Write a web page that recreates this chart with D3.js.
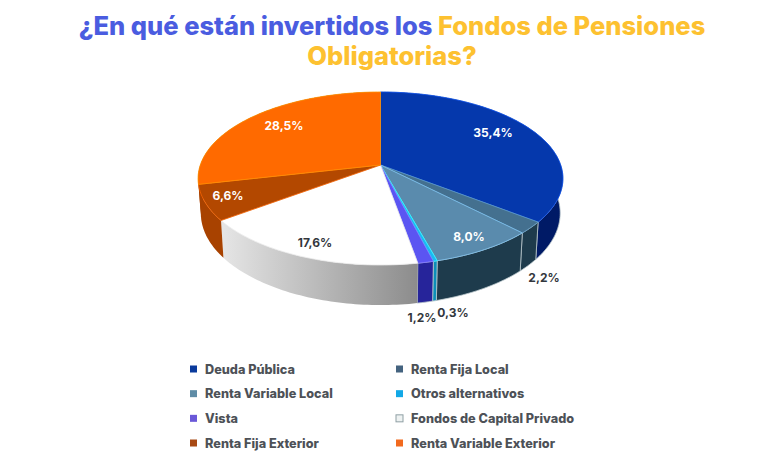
<!DOCTYPE html>
<html>
<head>
<meta charset="utf-8">
<script src="https://cdn.jsdelivr.net/npm/d3@7"></script>
<style>
    html, body { margin: 0; padding: 0; background: #fff; }
    svg { display: block; }
    text { font-family: Inter, "Open Sans", sans-serif; }
</style>
</head>
<body>
<svg id="chart" width="780" height="454"></svg>
<script>
const categories = ["Deuda Pública", "Renta Fija Local", "Renta Variable Local", "Otros alternativos",
    "Vista", "Fondos de Capital Privado", "Renta Fija Exterior", "Renta Variable Exterior"];
const values = [35.4, 2.2, 8.0, 0.3, 1.2, 17.6, 6.6, 28.5];
const valueLabels = ["35,4%", "2,2%", "8,0%", "0,3%", "1,2%", "17,6%", "6,6%", "28,5%"];
const topColors = ["#0538ac", "#44708f", "#5a8bad", "#1cb8f2", "#5b55f2", "#ffffff", "#b34800", "#ff6a00"];
// the small part of the last slice's wall that shows is hidden in the brown of the one before it
const wallColors = ["#001a66", "#1e3b4c", "#1e3b4c", "#0c8fb8", "#26249a", "url(#wall-grey)", "#a84200", "#a84200"];
const legendColors = ["#0a3a9c", "#44637f", "#5f8ca6", "#12a8e6", "#6a58d8", "#eef2f2", "#a84a14", "#f26a1e"];

// label layout, in the order of the categories
const labelX = [493, 544, 469, 453, 422, 315, 228, 284];
const labelY = [132, 277, 236, 312, 317, 242, 195, 125];
const labelFill = ["#fff", "#33373d", "#fff", "#33373d", "#33373d", "#33373d", "#fff", "#fff"];

const svg = d3.select("#chart");

// pie geometry: the disc is seen in perspective, so the apex is above the ellipse centre
const cx = 380.5, apexY = 165;
const persp = 0.156, rx = 180.2, ry = 84.4, depth = 33.8, bottomShrink = 0.985;

function project(angle, level) {
    const u = Math.sin(angle), v = -Math.cos(angle);
    const w = 1 - persp * v;
    const s = level ? bottomShrink : 1;
    return [cx + s * rx * u / w, apexY + ry * v / w + (level ? depth / w : 0)];
}

const arcs = d3.pie().sort(null)(values);
const line = d3.line();
const sampleAngles = d => {
    const n = Math.max(2, Math.ceil((d.endAngle - d.startAngle) / 0.02));
    return d3.range(n + 1).map(i => d.startAngle + (d.endAngle - d.startAngle) * i / n);
};

const defs = svg.append("defs");
const greyGrad = defs.append("linearGradient").attr("id", "wall-grey");
greyGrad.append("stop").attr("offset", "0%").attr("stop-color", "#e6e6e6");
greyGrad.append("stop").attr("offset", "100%").attr("stop-color", "#8c8c8c");

// side walls first, the top faces cover whatever is behind
svg.append("g").selectAll("path").data(arcs).enter().append("path")
    .attr("d", d => {
        const a = sampleAngles(d);
        const pts = a.map(t => project(t, 0)).concat(a.slice().reverse().map(t => project(t, 1)));
        return line(pts) + "Z";
    })
    .attr("fill", (d, i) => wallColors[i])
    .attr("stroke", (d, i) => i >= 5 ? "none" : "#b9c6cc")
    .attr("stroke-width", 0.8);

svg.append("g").selectAll("path").data(arcs).enter().append("path")
    .attr("d", d => line([[cx, apexY]].concat(sampleAngles(d).map(t => project(t, 0)))) + "Z")
    .attr("fill", (d, i) => topColors[i])
    .attr("stroke", (d, i) => i === 5 ? "#e8e8e8" : d3.color(topColors[i]).brighter(0.9))
    .attr("stroke-width", 0.8)
    .attr("stroke-linejoin", "round");

// percentage labels
svg.append("g").selectAll("text").data(valueLabels).enter().append("text")
    .attr("x", (d, i) => labelX[i])
    .attr("y", (d, i) => labelY[i])
    .attr("text-anchor", "middle")
    .attr("dominant-baseline", "central")
    .attr("font-size", 12)
    .attr("font-weight", 700)
    .attr("fill", (d, i) => labelFill[i])
    .text(d => d);

// title
const title = svg.append("g").attr("text-anchor", "middle")
    .attr("font-size", 25.5).attr("font-weight", 800);
const line1 = title.append("text").attr("x", 392).attr("y", 35);
line1.append("tspan").attr("fill", "#4a5ce0").text("¿En qué están invertidos los ");
line1.append("tspan").attr("fill", "#fdc130").text("Fondos de Pensiones");
title.append("text").attr("x", 392).attr("y", 65).attr("fill", "#fdc130").text("Obligatorias?");

// legend, two columns
const legendX = d3.scalePoint().domain([0, 1]).range([190, 396]);
const legendY = d3.scalePoint().domain([0, 1, 2, 3]).range([369, 443]);
const legend = svg.append("g").selectAll("g").data(categories).enter().append("g")
    .attr("transform", (d, i) => `translate(${legendX(i % 2)},${legendY(Math.floor(i / 2))})`);
legend.append("rect")
    .attr("x", 0).attr("y", -3.5).attr("width", 7).attr("height", 7)
    .attr("fill", (d, i) => legendColors[i])
    .attr("stroke", (d, i) => i === 5 ? "#8fa0a4" : "none");
legend.append("text")
    .attr("x", 15)
    .attr("dominant-baseline", "central")
    .attr("font-size", 12.7)
    .attr("font-weight", 800)
    .attr("fill", "#4d5157")
    .text(d => d);
</script>
</body>
</html>
